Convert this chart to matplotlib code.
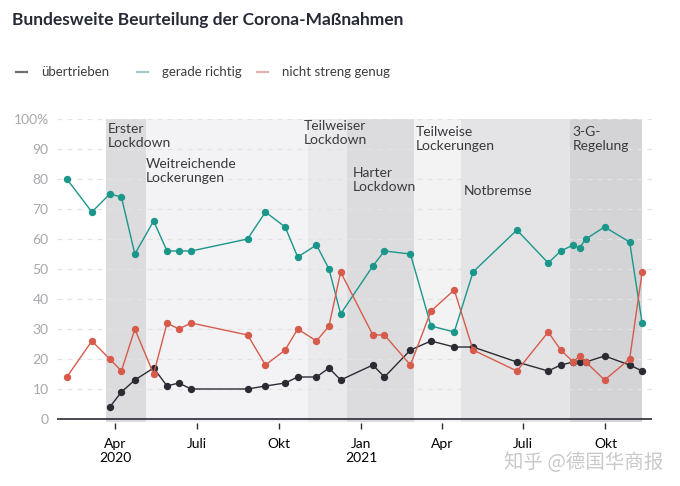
import matplotlib
matplotlib.use("Agg")
import matplotlib.pyplot as plt
from matplotlib import font_manager
import numpy as np
import pandas as pd

# ---------------- data ----------------
survey_dates = ["2020-02-07", "2020-03-06", "2020-03-26", "2020-04-08", "2020-04-23",
                "2020-05-14", "2020-05-29", "2020-06-11", "2020-06-25", "2020-08-27",
                "2020-09-16", "2020-10-08", "2020-10-22", "2020-11-12", "2020-11-26",
                "2020-12-09", "2021-01-14", "2021-01-27", "2021-02-25", "2021-03-20",
                "2021-04-15", "2021-05-06", "2021-06-24", "2021-07-29", "2021-08-12",
                "2021-08-26", "2021-09-02", "2021-09-09", "2021-09-30", "2021-10-28",
                "2021-11-11"]

uebertrieben = [None, None, 4, 9, 13, 17, 11, 12, 10, 10,
                11, 12, 14, 14, 17, 13, 18, 14, 23, 26,
                24, 24, 19, 16, 18, 19, 19, 19, 21, 18, 16]
gerade_richtig = [80, 69, 75, 74, 55, 66, 56, 56, 56, 60,
                  69, 64, 54, 58, 50, 35, 51, 56, 55, 31,
                  29, 49, 63, 52, 56, 58, 57, 60, 64, 59, 32]
nicht_streng_genug = [14, 26, 20, 16, 30, 15, 32, 30, 32, 28,
                      18, 23, 30, 26, 31, 49, 28, 28, 18, 36,
                      43, 23, 16, 29, 23, 19, 21, 19, 13, 20, 49]

series_names = ["übertrieben", "gerade richtig", "nicht streng genug"]

phase_names = ["Erster\nLockdown", "Weitreichende\nLockerungen", "Teilweiser\nLockdown",
               "Harter\nLockdown", "Teilweise\nLockerungen", "Notbremse", "3-G-\nRegelung"]
phase_starts = ["2020-03-22", "2020-05-05", "2020-11-02", "2020-12-16",
                "2021-03-01", "2021-04-22", "2021-08-22"]
phase_ends = ["2020-05-05", "2020-11-02", "2020-12-16", "2021-03-01",
              "2021-04-22", "2021-08-22", "2021-11-11"]

tick_dates = ["2020-04-01", "2020-07-01", "2020-10-01", "2021-01-01",
              "2021-04-01", "2021-07-01", "2021-10-01"]
tick_labels = ["Apr\n2020", "Juli", "Okt", "Jan\n2021", "Apr", "Juli", "Okt"]
y_ticks = [0, 10, 20, 30, 40, 50, 60, 70, 80, 90, 100]
y_labels = ["0", "10", "20", "30", "40", "50", "60", "70", "80", "90", "100%"]

# ---------------- style ----------------
FONT = "Lato"
plt.rcParams["font.family"] = [FONT, "DejaVu Sans"]

available = {f.name for f in font_manager.fontManager.ttflist}
if "Liberation Sans Narrow" in available:
    title_font, title_size = "Liberation Sans Narrow", 15.5
else:
    title_font, title_size = FONT, 12.5

col_black = "#2a2b33"
col_teal = "#1a968a"
col_red = "#d65b4b"
legend_cols = ["#6f6f74", "#9fcacf", "#e2b3aa"]
band_cols = ["#dcdcde", "#f3f3f5", "#eaeaec", "#dcdcdf", "#f3f3f4", "#e4e4e6", "#d4d4d7"]
# label placement (y in data units, x offset in points)
label_y = [94.4, 82.7, 95.4, 79.7, 93.3, 76.1, 93.3]
label_dx = [1, 0, -3, 4, 1, 2, 2]

fig = plt.figure(figsize=(6.8, 4.86), dpi=100)
ax = fig.add_axes([57 / 680, 1 - 422 / 486, (652 - 57) / 680, (422 - 119) / 486])

dates = pd.to_datetime(survey_dates)

def to_arr(v):
    return np.array([np.nan if x is None else x for x in v], dtype=float)

# bands
for s, e, c in zip(phase_starts, phase_ends, band_cols):
    ax.axvspan(pd.Timestamp(s), pd.Timestamp(e), color=c, lw=0, zorder=0)

# grid
for yv in y_ticks[1:]:
    ax.axhline(yv, color="#e3e3e3", lw=0.9, dashes=(4, 4), zorder=1)
ax.axhline(0, color="#2a2b33", lw=1.2, zorder=2)

# series
for vals, col in zip([uebertrieben, gerade_richtig, nicht_streng_genug],
                     [col_black, col_teal, col_red]):
    arr = to_arr(vals)
    m = ~np.isnan(arr)
    ax.plot(dates[m], arr[m], color=col, lw=1.0, marker="o", markersize=5.3,
            markeredgewidth=0, zorder=3)

# phase labels
for name, s, yv, dx in zip(phase_names, phase_starts, label_y, label_dx):
    ax.annotate(name, xy=(pd.Timestamp(s), yv), xytext=(dx, 0), textcoords="offset points",
                ha="left", va="center", fontsize=10, color="#3a3a3e", linespacing=1.2,
                zorder=4)

ax.set_xlim(pd.Timestamp("2020-01-27"), pd.Timestamp("2021-11-22"))
ax.set_ylim(-1, 100)

ax.set_xticks(pd.to_datetime(tick_dates))
ax.set_xticklabels(tick_labels, fontsize=10, color="#9a9a9e", linespacing=1.3)
ax.set_yticks(y_ticks)
ax.set_yticklabels(y_labels, fontsize=10, color="#a8a8ac")
ax.tick_params(axis="y", length=0, pad=6)
ax.tick_params(axis="x", length=4, width=1, color="#2a2b33", pad=7, direction="out")

for sp in ["top", "right", "left"]:
    ax.spines[sp].set_visible(False)
ax.spines["bottom"].set_color("none")
ax.spines["bottom"].set_position(("outward", 0.5))
ax.set_facecolor("white")

# title
fig.text(12 / 680, 1 - 20 / 486, "Bundesweite Beurteilung der Corona-Maßnahmen",
         fontsize=title_size, fontweight="bold", color="#272b36", ha="left", va="center",
         family=[title_font, "DejaVu Sans"])

# legend (manual layout)
legend_x = [15.5, 137, 257]
for name, c, lx in zip(series_names, legend_cols, legend_x):
    fig.add_artist(plt.Line2D([lx / 680, (lx + 11) / 680], [1 - 72 / 486] * 2,
                              color=c, lw=1.6, transform=fig.transFigure))
    fig.text((lx + 25.5) / 680, 1 - 72 / 486, name, fontsize=9.5, color="#3d3d42",
             ha="left", va="center")

# watermark
fig.text(663 / 680, 1 - 462 / 486, "知乎 @德国华商报", fontsize=14, color="#c4c4c4",
         ha="right", va="center", family=["Noto Sans CJK SC", "DejaVu Sans"], alpha=0.9)

fig.savefig("out.png", dpi=100)
